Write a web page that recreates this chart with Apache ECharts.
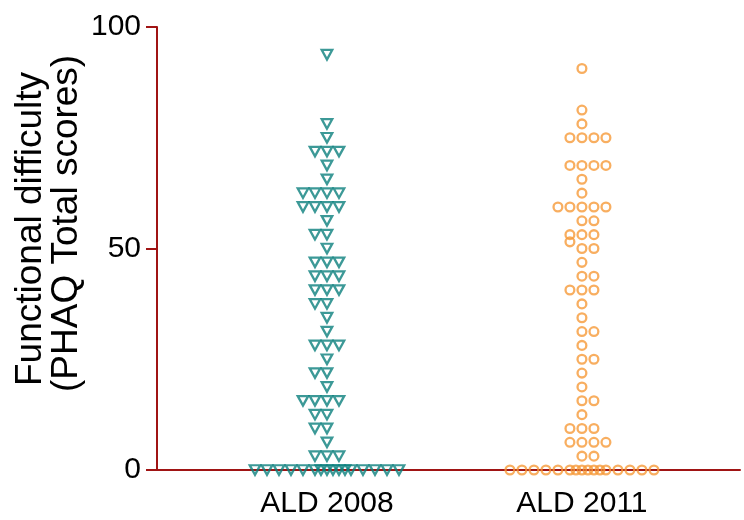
<!DOCTYPE html>
<html><head><meta charset="utf-8">
<script src="https://cdn.jsdelivr.net/npm/echarts@6/dist/echarts.min.js"></script>
<style>html,body{margin:0;padding:0;background:#fff}#c{width:744px;height:520px}</style>
</head><body><div id="c"></div>
<script>
// ---- data ----
const categories = ['ALD 2008', 'ALD 2011'];
const yTicks = [0, 50, 100];
const yTitleLines = ['Functional difficulty', '(PHAQ Total scores)'];

const ald2008 = [
  0,0,0,0,0,0,0,0,0,0,0,0,0,0,0,0,
  3.125,3.125,3.125,
  6.25,
  9.375,9.375,
  12.5,12.5,
  15.625,15.625,15.625,15.625,
  18.75,
  21.875,21.875,
  25,
  28.125,28.125,28.125,
  31.25,
  34.375,
  37.5,37.5,
  40.625,40.625,40.625,
  43.75,43.75,43.75,
  46.875,46.875,46.875,
  50,
  53.125,53.125,
  56.25,
  59.375,59.375,59.375,59.375,
  62.5,62.5,62.5,62.5,
  65.625,
  68.75,
  71.875,71.875,71.875,
  75,
  78.125,
  93.75
];

const ald2011 = [
  0,0,0,0,0,0,0,0,0,0,0,0,0,0,0,0,
  3.125,3.125,
  6.25,6.25,6.25,6.25,
  9.375,9.375,9.375,
  12.5,
  15.625,15.625,
  18.75,
  21.875,
  25,25,
  28.125,
  31.25,31.25,
  34.375,
  37.5,
  40.625,40.625,40.625,
  43.75,43.75,
  46.875,
  50,50,51.5,
  53.125,53.125,53.125,
  56.25,56.25,
  59.375,59.375,59.375,59.375,59.375,
  62.5,
  65.625,
  68.75,68.75,68.75,68.75,
  75,75,75,75,
  78.125,
  81.25,
  90.625
];

// ---- layout ----
const GRID = {left: 157, top: 27, right: 4, bottom: 50};
const X_MIN = 0.3333, X_MAX = 2.62;
const gridW = 744 - GRID.left - GRID.right;
const slotUnits = 12 * (X_MAX - X_MIN) / gridW;

function swarm(values, catIndex, pref) {
  const binW = 3.125, maxRow = 13;
  const half = [-0.5, 0.5, 1.5, -1.5, 2.5, -2.5];
  const bins = new Map();
  values.slice().sort((a, b) => a - b).forEach(v => {
    const k = Math.round(v / binW);
    if (!bins.has(k)) bins.set(k, []);
    bins.get(k).push(v);
  });
  const pts = [];
  bins.forEach(list => {
    list.forEach((v, i) => {
      let slot;
      if (i < maxRow) slot = i === 0 ? 0 : Math.ceil(i / 2) * (i % 2 ? pref : -pref);
      else slot = half[(i - maxRow) % half.length];
      pts.push([catIndex + 1 + slot * slotUnits, v]);
    });
  });
  return pts;
}

const AXIS_COLOR = '#a01414';
const FONT = '"Liberation Sans", Arial, sans-serif';

const chart = echarts.init(document.getElementById('c'));
chart.setOption({
  animation: false,
  backgroundColor: '#fff',
  grid: GRID,
  xAxis: {
    type: 'value', min: X_MIN, max: X_MAX,
    splitLine: {show: false},
    axisLine: {show: true, lineStyle: {color: AXIS_COLOR, width: 2}},
    axisTick: {show: false},
    axisLabel: {
      customValues: [1, 2],
      formatter: v => categories[Math.round(v) - 1] || '',
      fontSize: 30, color: '#000', fontFamily: FONT, margin: 19
    }
  },
  yAxis: {
    type: 'value', min: 0, max: 100, interval: 50,
    splitLine: {show: false},
    axisLine: {show: true, lineStyle: {color: AXIS_COLOR, width: 2}},
    axisTick: {show: true, length: 11, lineStyle: {color: AXIS_COLOR, width: 2}},
    axisLabel: {
      customValues: yTicks,
      fontSize: 30, color: '#000', fontFamily: FONT, margin: 16
    }
  },
  graphic: [
    {type: 'text', x: 31, y: 386, rotation: Math.PI / 2,
     style: {text: yTitleLines[0], font: '37px ' + FONT, fill: '#000', align: 'left', verticalAlign: 'middle'}},
    {type: 'text', x: 67, y: 392, rotation: Math.PI / 2,
     style: {text: yTitleLines[1], font: '37px ' + FONT, fill: '#000', align: 'left', verticalAlign: 'middle'}}
  ],
  series: [
    {
      name: categories[0], type: 'scatter', data: swarm(ald2008, 0, -1),
      symbol: 'triangle', symbolRotate: 180, symbolSize: [10.5, 9.5],
      itemStyle: {color: 'transparent', borderColor: '#0b807d', borderWidth: 2.3}
    },
    {
      name: categories[1], type: 'scatter', data: swarm(ald2011, 1, 1),
      symbol: 'circle', symbolSize: 8.8,
      itemStyle: {color: 'transparent', borderColor: '#f69a38', borderWidth: 2.3}
    }
  ]
});
</script>
</body></html>
